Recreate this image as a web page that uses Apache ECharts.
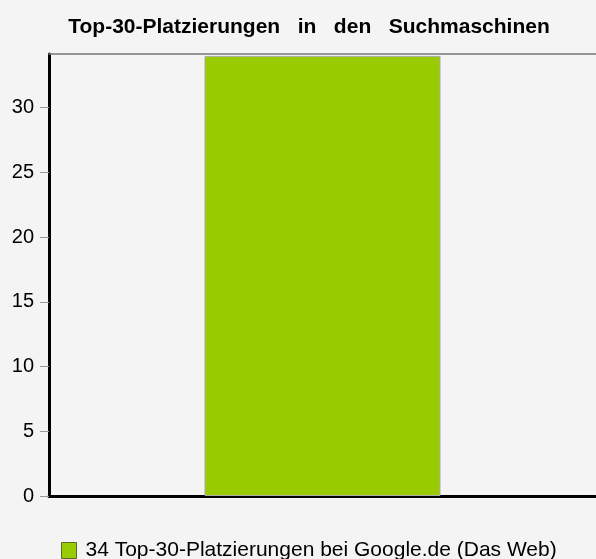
<!DOCTYPE html>
<html>
<head>
<meta charset="utf-8">
<script src="https://cdn.jsdelivr.net/npm/echarts@6/dist/echarts.min.js"></script>
<style>
  html, body { margin: 0; padding: 0; background: #f4f4f4; }
  #chart { width: 596px; height: 559px; }
</style>
</head>
<body>
<div id="chart"></div>
<script>
const categories = ["Google.de (Das Web)"];
const placements = [34];
const seriesName = "Top-30-Platzierungen bei Google.de (Das Web)";
const yTicks = [0, 5, 10, 15, 20, 25, 30];

const chart = echarts.init(document.getElementById("chart"));

const option = {
  backgroundColor: "#f4f4f4",
  animation: false,
  title: {
    text: "Top-30-Platzierungen   in   den   Suchmaschinen",
    left: 304,
    textAlign: "center",
    top: 12,
    textStyle: {
      fontFamily: "Liberation Sans, Arial, sans-serif",
      fontSize: 21,
      fontWeight: "bold",
      color: "#000",
    },
  },
  legend: {
    left: 56,
    top: 535,
    icon: "rect",
    itemWidth: 15,
    itemHeight: 16,
    itemStyle: { borderColor: "#5a6b2a", borderWidth: 1 },
    formatter: (name) => placements[0] + " " + name,
    textStyle: {
      fontFamily: "Liberation Sans, Arial, sans-serif",
      fontSize: 21,
      color: "#000",
      padding: [0, 0, 0, 4],
    },
  },
  grid: {
    left: 49,
    right: 0,
    top: 54,
    bottom: 63,
  },
  xAxis: [
    {
      type: "category",
      data: categories,
      axisLine: { lineStyle: { color: "#000", width: 3 } },
      axisTick: { show: false },
      axisLabel: { show: false },
    },
    {
      type: "category",
      position: "top",
      data: categories,
      axisLine: { lineStyle: { color: "#777", width: 1.5 } },
      axisTick: { show: false },
      axisLabel: { show: false },
    },
  ],
  yAxis: {
    type: "value",
    min: 0,
    max: 34.15,
    axisLine: { show: true, lineStyle: { color: "#000", width: 3 } },
    axisTick: {
      show: true,
      length: 9,
      customValues: yTicks,
      lineStyle: { color: "#999", width: 1 },
    },
    splitLine: { show: false },
    axisLabel: {
      margin: 15,
      customValues: yTicks,
      fontFamily: "Liberation Sans, Arial, sans-serif",
      fontSize: 20,
      color: "#000",
    },
  },
  series: [
    {
      type: "bar",
      name: seriesName,
      data: placements,
      barWidth: 236,
      itemStyle: {
        color: "#99cc00",
        borderColor: "#aaaaaa",
        borderWidth: 1,
      },
    },
  ],
};
chart.setOption(option);
</script>
</body>
</html>
